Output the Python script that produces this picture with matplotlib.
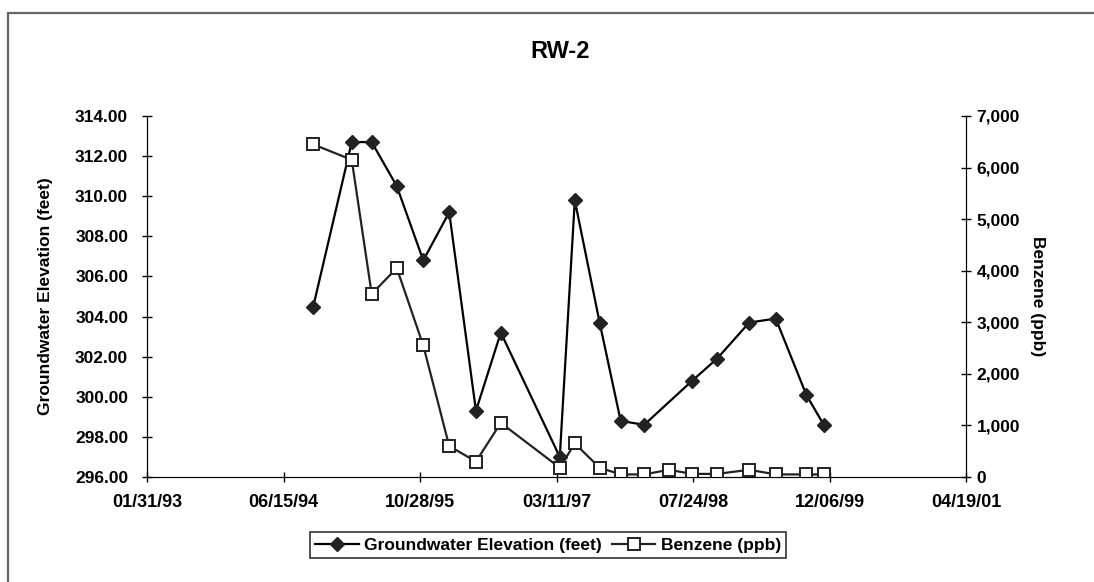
import matplotlib
matplotlib.use("Agg")
import matplotlib.pyplot as plt
import matplotlib.dates as mdates
import pandas as pd
from matplotlib.patches import Rectangle

plt.rcParams['font.family'] = ['Liberation Sans', 'DejaVu Sans']
plt.rcParams['font.weight'] = 'bold'

# groundwater elevation (feet)
gw_dates = ["1994-10-02", "1995-02-20", "1995-05-04", "1995-08-04", "1995-11-09",
            "1996-02-12", "1996-05-20", "1996-08-19", "1997-03-23", "1997-05-17",
            "1997-08-16", "1997-11-01", "1998-01-26", "1998-07-21", "1998-10-20",
            "1999-02-15", "1999-05-23", "1999-09-12", "1999-11-15"]
gw_values = [304.5, 312.7, 312.7, 310.5, 306.8, 309.2, 299.3, 303.2, 297.0, 309.8,
             303.7, 298.8, 298.6, 300.8, 301.9, 303.7, 303.9, 300.1, 298.6]

# benzene (ppb)
bz_dates = ["1994-10-02", "1995-02-20", "1995-05-04", "1995-08-04", "1995-11-09",
            "1996-02-12", "1996-05-20", "1996-08-19", "1997-03-23", "1997-05-17",
            "1997-08-16", "1997-11-01", "1998-01-26", "1998-04-27", "1998-07-21",
            "1998-10-20", "1999-02-15", "1999-05-23", "1999-09-12", "1999-11-15"]
bz_values = [6450, 6150, 3550, 4050, 2550, 600, 300, 1050, 180, 650,
             180, 50, 50, 140, 60, 60, 140, 50, 50, 50]

x_ticks = ["1993-01-31", "1994-06-15", "1995-10-28", "1997-03-11",
           "1998-07-24", "1999-12-06", "2001-04-19"]

gw_x = pd.to_datetime(gw_dates)
bz_x = pd.to_datetime(bz_dates)
ticks = pd.to_datetime(x_ticks)

fig = plt.figure(figsize=(10.94, 5.82), dpi=100)
fig.patches.append(Rectangle((8 / 1094, -0.1), 1.2, 1.1 - 13 / 582, transform=fig.transFigure,
                             fill=False, edgecolor='#666666', lw=1.6))

ax = fig.add_axes([147 / 1094, 105 / 582, (966 - 147) / 1094, (477 - 116) / 582])
ax2 = ax.twinx()

l1, = ax.plot(gw_x, gw_values, color='black', lw=1.6, marker='D', ms=7,
              mfc='#222222', mec='#222222', label='Groundwater Elevation (feet)')
l2, = ax2.plot(bz_x, bz_values, color='#222222', lw=1.6, marker='s', ms=9,
               mfc='white', mec='#222222', mew=1.4, label='Benzene (ppb)')

ax.set_xlim(ticks[0], ticks[-1])
ax.set_xticks(ticks)
ax.xaxis.set_major_formatter(mdates.DateFormatter('%m/%d/%y'))
ax.set_ylim(296, 314)
ax.set_yticks(range(296, 315, 2))
ax.set_yticklabels([f"{v:.2f}" for v in range(296, 315, 2)])
ax2.set_ylim(0, 7000)
ax2.set_yticks(range(0, 7001, 1000))
ax2.set_yticklabels([f"{v:,}" for v in range(0, 7001, 1000)])

for a in (ax, ax2):
    a.spines['top'].set_visible(False)
    a.tick_params(direction='inout', length=7, width=1, labelsize=12.5)
ax.tick_params(axis='x', labelsize=13, pad=9)
ax.tick_params(axis='y', pad=10)
ax2.tick_params(axis='y', pad=4)

ax.set_ylabel('Groundwater Elevation (feet)', fontsize=12.5, fontweight='bold', labelpad=16)
ax2.set_ylabel('Benzene (ppb)', fontsize=12.5, fontweight='bold', rotation=270, labelpad=18)

fig.text(560 / 1094, 1 - 52 / 582, 'RW-2', ha='center', va='center', fontsize=17, fontweight='bold')

leg = fig.legend(handles=[l1, l2], loc='center', bbox_to_anchor=(548 / 1094, 1 - 545 / 582),
                 ncol=2, frameon=True, fancybox=False, edgecolor='black', fontsize=12.5,
                 handlelength=2.5, columnspacing=0.6, handletextpad=0.3, borderpad=0.3)
leg.get_frame().set_linewidth(1.2)

fig.savefig('out.png', dpi=100)
